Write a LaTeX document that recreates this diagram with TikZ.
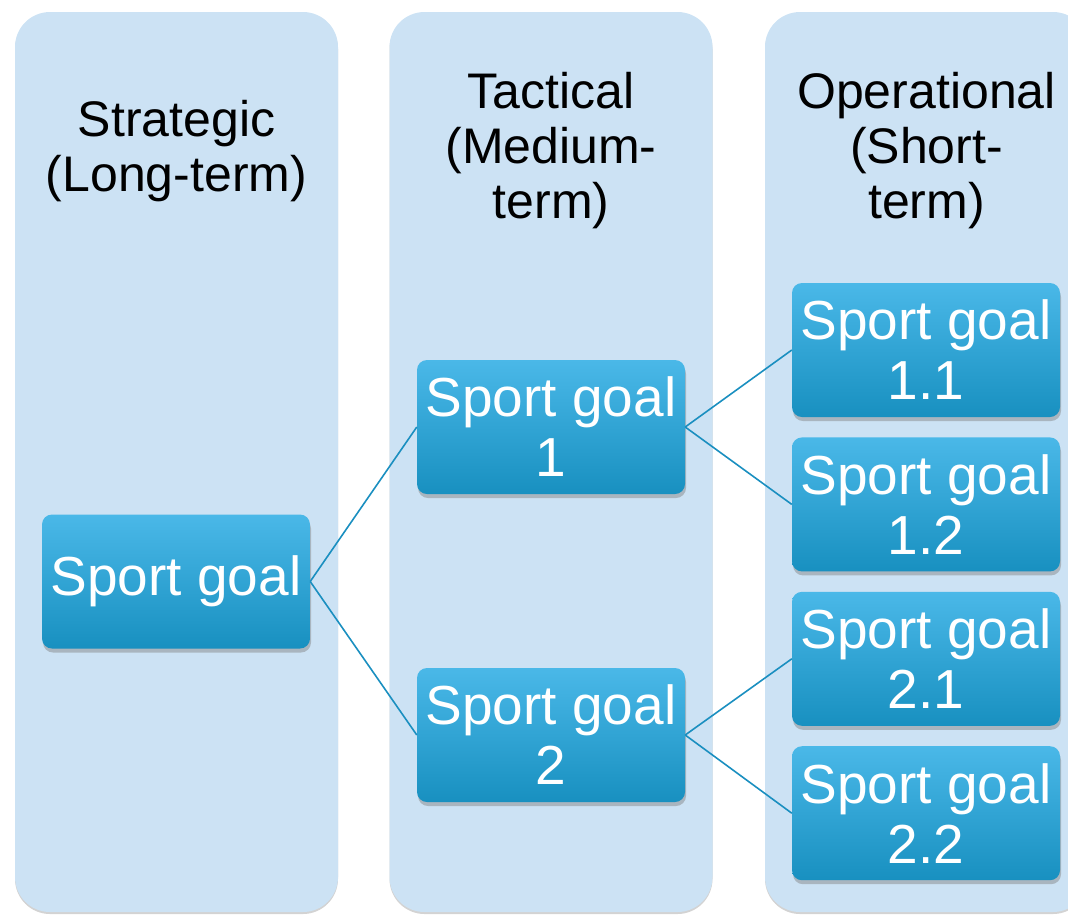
\documentclass[tikz,border=0pt]{standalone}
\usepackage{fontspec}
\setmainfont{Liberation Sans}
\usetikzlibrary{positioning, shadows}
\definecolor{planbg}{RGB}{204, 226, 244}
\definecolor{goaltop}{RGB}{74, 184, 232}
\definecolor{goalbottom}{RGB}{24, 144, 192}
\definecolor{linkblue}{RGB}{26, 143, 192}

\begin{document}
\begin{tikzpicture}[
        x=1pt, y=-1pt,
        column/.style={fill=planbg, rounded corners=35pt, minimum width=323pt, minimum height=900pt,
            drop shadow={shadow xshift=0pt, shadow yshift=-2pt, opacity=0.35}},
        header/.style={align=center, font=\fontsize{50}{55}\selectfont, text=black},
        goal/.style={rounded corners=10pt, top color=goaltop, bottom color=goalbottom, text=white,
            minimum width=268pt, minimum height=134pt, inner xsep=2pt, align=center,
            font=\fontsize{55}{60}\selectfont,
            drop shadow={shadow xshift=1pt, shadow yshift=-4pt, opacity=0.45}},
        link/.style={draw=linkblue, line width=1.6pt}
    ]
        \path[use as bounding box, clip] (0,0) rectangle (1068,914);

        % Columns
        \node[column] (col1) at (176.5,462) {};
        \node[column] (col2) at (551,462) {};
        \node[column] (col3) at (926.5,462) {};

        % Headers
        \node[header] (strategic) at (176.5,151) {Strategic\\(Long-term)};
        \node[header] (tactical) at (551,151) {Tactical\\(Medium-\\term)};
        \node[header] (operational) at (926.5,151) {Operational\\(Short-\\term)};

        % Goals
        \node[goal] (goal) at (176,581.5) {Sport goal};
        \node[goal] (goal1) at (551,427) {Sport goal\\1};
        \node[goal] (goal2) at (551,735) {Sport goal\\2};
        \node[goal] (goal11) at (926,350) {Sport goal\\1.1};
        \node[goal, below=20pt of goal11] (goal12) {Sport goal\\1.2};
        \node[goal, below=20pt of goal12] (goal21) {Sport goal\\2.1};
        \node[goal, below=20pt of goal21] (goal22) {Sport goal\\2.2};

        % Links
        \draw[link] (goal.east) -- (goal1.west);
        \draw[link] (goal.east) -- (goal2.west);
        \draw[link] (goal1.east) -- (goal11.west);
        \draw[link] (goal1.east) -- (goal12.west);
        \draw[link] (goal2.east) -- (goal21.west);
        \draw[link] (goal2.east) -- (goal22.west);
    \end{tikzpicture}
\end{document}
